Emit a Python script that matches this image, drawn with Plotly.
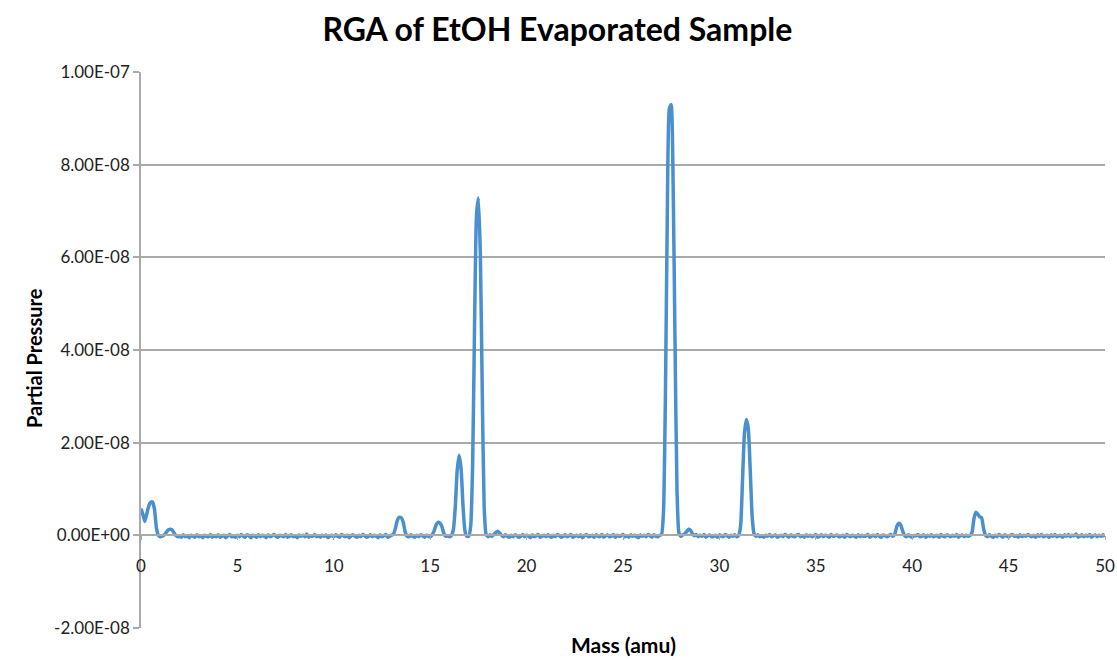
import plotly.graph_objects as go

# Scan parameters (amu)
mass_start = 0.0
mass_step = 0.1

# Partial pressure in units of 1e-9 Torr, one row per amu (x.0 .. x.9), last value at 50.0
pressure_rows = [
    [5.8, 4.5, 3.0, 4.6, 6.3, 7.1, 7.2, 5.6, 1.6, 0.0],        # 0
    [-0.3, -0.2, 0.1, 0.6, 1.1, 1.3, 1.2, 0.6, 0.0, -0.3],     # 1
    [-0.2, -0.4, 0.1, -0.3, -0.1, -0.5, 0.0, -0.2, -0.4, 0.1], # 2
    [-0.3, -0.1, -0.5, 0.0, -0.2, -0.3, 0.2, -0.4, -0.1, -0.3],
    [0.1, -0.4, -0.2, 0.0, -0.5, -0.1, 0.2, -0.3, -0.2, -0.4],
    [0.0, -0.3, 0.2, -0.2, -0.4, 0.1, -0.1, -0.5, 0.0, -0.2],
    [-0.4, 0.1, -0.3, 0.0, -0.2, -0.5, 0.1, -0.3, -0.1, 0.2],
    [-0.2, -0.4, 0.0, -0.1, -0.3, 0.2, -0.4, -0.2, 0.1, -0.3],
    [-0.1, -0.5, 0.1, -0.2, 0.0, -0.3, 0.3, -0.4, -0.1, -0.2],
    [0.2, -0.3, -0.1, -0.4, 0.0, -0.2, 0.1, -0.5, -0.2, 0.0],
    [-0.3, 0.1, -0.2, -0.4, 0.2, -0.1, -0.3, 0.0, -0.5, -0.1], # 10
    [0.1, -0.2, -0.4, 0.0, -0.3, 0.2, -0.1, -0.4, -0.2, 0.1],
    [-0.3, 0.0, -0.2, -0.5, 0.1, -0.3, -0.1, 0.2, -0.4, -0.2],
    [0.0, 0.3, 1.6, 3.3, 3.9, 3.8, 2.8, 0.8, -0.2, -0.3],      # 13
    [0.1, -0.2, -0.4, 0.0, -0.3, 0.1, -0.1, -0.4, 0.0, -0.2],
    [-0.3, 0.1, 0.9, 2.2, 2.8, 2.7, 2.0, 0.5, -0.2, -0.1],     # 15
    [-0.3, 0.0, 1.2, 6.0, 14.0, 17.3, 14.5, 6.5, 1.0, -0.2],   # 16
    [-0.2, 2.0, 15.0, 45.0, 69.0, 72.8, 61.0, 31.0, 6.0, 0.2], # 17
    [-0.3, 0.1, -0.2, 0.2, 0.6, 0.9, 0.5, 0.0, -0.3, 0.1],     # 18
    [-0.2, -0.4, 0.0, -0.3, 0.1, -0.1, -0.4, -0.2, 0.2, -0.3],
    [0.0, -0.2, -0.5, 0.1, -0.3, -0.1, 0.2, -0.4, -0.2, 0.0],  # 20
    [-0.3, 0.1, -0.2, -0.4, 0.0, -0.3, 0.2, -0.1, -0.4, -0.2],
    [0.1, -0.3, -0.1, 0.2, -0.4, -0.2, 0.0, -0.3, 0.1, -0.5],
    [-0.1, 0.2, -0.3, -0.2, 0.0, -0.4, 0.1, -0.2, -0.3, 0.2],
    [-0.4, -0.1, 0.1, -0.3, -0.2, 0.2, -0.4, 0.0, -0.2, -0.1],
    [0.2, -0.3, -0.1, -0.4, 0.1, -0.2, 0.0, -0.3, -0.5, 0.1],
    [-0.2, 0.0, -0.3, 0.2, -0.1, -0.4, 0.1, -0.2, -0.3, 0.0],
    [0.2, 5.0, 30.0, 70.0, 92.0, 93.0, 76.0, 41.0, 10.0, 0.5], # 27
    [-0.2, 0.1, 0.3, 0.8, 1.3, 1.1, 0.4, -0.1, 0.2, -0.3],     # 28
    [0.0, -0.2, 0.2, -0.4, -0.1, 0.1, -0.3, -0.2, 0.0, -0.4],
    [0.1, -0.2, -0.3, 0.2, -0.1, -0.4, 0.0, -0.2, 0.1, -0.3],  # 30
    [0.0, 2.0, 12.0, 22.0, 25.0, 23.0, 14.0, 4.0, 0.3, -0.2],  # 31
    [0.1, -0.3, -0.1, -0.4, 0.0, -0.2, 0.2, -0.3, -0.1, 0.1],
    [-0.4, -0.2, 0.0, -0.3, 0.2, -0.1, -0.4, 0.1, -0.2, -0.3],
    [0.0, 0.2, -0.3, -0.1, -0.4, 0.1, -0.2, 0.0, -0.3, -0.1],
    [0.2, -0.4, -0.2, 0.1, -0.3, 0.0, -0.1, -0.4, 0.2, -0.2],
    [-0.1, 0.1, -0.3, -0.2, 0.0, -0.4, 0.2, -0.1, -0.3, 0.0],
    [-0.2, -0.4, 0.1, -0.3, 0.0, -0.2, -0.1, 0.2, -0.4, -0.1],
    [0.0, -0.3, 0.2, -0.2, -0.4, 0.1, -0.1, -0.3, 0.0, 0.2],
    [-0.2, 0.3, 1.9, 2.6, 2.3, 1.0, 0.0, -0.3, 0.1, -0.2],     # 39
    [-0.4, 0.0, -0.1, 0.2, -0.3, -0.2, 0.1, -0.4, 0.0, -0.2],  # 40
    [0.1, -0.3, -0.1, 0.0, -0.4, 0.2, -0.2, -0.3, 0.1, -0.1],
    [-0.3, 0.0, -0.2, 0.2, -0.4, -0.1, 0.1, -0.3, 0.0, -0.2],
    [0.0, 0.6, 3.5, 5.0, 4.6, 4.0, 3.8, 1.5, 0.0, -0.3],       # 43
    [0.1, -0.2, -0.4, 0.0, -0.3, 0.2, -0.1, -0.4, 0.1, -0.2],
    [-0.3, 0.0, 0.2, -0.2, -0.1, -0.4, 0.1, -0.3, 0.0, -0.2],
    [0.2, -0.1, -0.3, 0.0, -0.4, 0.1, -0.2, 0.2, -0.3, -0.1],
    [0.0, -0.4, 0.1, -0.2, 0.2, -0.3, -0.1, 0.0, -0.4, 0.1],
    [-0.2, 0.2, -0.3, 0.0, -0.1, 0.3, -0.4, -0.2, 0.1, -0.3],
    [0.0, -0.2, 0.2, -0.4, -0.1, 0.1, -0.3, 0.0, -0.2, 0.1],
    [-0.3],                                                     # 50.0
]

x_tick_vals = [0, 5, 10, 15, 20, 25, 30, 35, 40, 45, 50]
y_tick_vals = [-20, 0, 20, 40, 60, 80, 100]
y_tick_text = ["-2.00E-08", "0.00E+00", "2.00E-08", "4.00E-08",
               "6.00E-08", "8.00E-08", "1.00E-07"]

pressure = [v for row in pressure_rows for v in row]

FONT = "Lato, 'Open Sans', sans-serif"
GRAY = "#a9a9a9"

fig = go.Figure()
fig.add_trace(go.Scatter(
    x0=mass_start, dx=mass_step, y=pressure,
    mode="lines",
    line=dict(color="#4a8fd0", width=3.5, shape="spline", smoothing=0.5),
    showlegend=False,
))

x_axis_pos = (0 - (-20)) / (100 - (-20))

L, R, T, B = 141, 12, 72, 32
plot_h = 660 - T - B
plot_w = 1117 - L - R

fig.update_layout(
    width=1117, height=660, autosize=False,
    margin=dict(l=L, r=R, t=T, b=B, autoexpand=False),
    paper_bgcolor="white", plot_bgcolor="white",
    font=dict(family=FONT, color="#222222"),
    title=dict(text="<b>RGA of EtOH Evaporated Sample</b>",
               x=0.499, xref="container", xanchor="center",
               y=0.955, yref="container", yanchor="middle",
               font=dict(size=32, color="#000000", family=FONT)),
    xaxis=dict(range=[0, 50], tickvals=x_tick_vals,
               anchor="free", position=x_axis_pos, automargin=False,
               showline=True, linecolor=GRAY, linewidth=1.5,
               ticks="outside", ticklen=4, tickcolor=GRAY, tickwidth=1,
               ticklabelstandoff=12,
               showgrid=False, zeroline=False,
               tickfont=dict(size=17, family=FONT, color="#222222")),
    yaxis=dict(range=[-20, 100], tickvals=y_tick_vals, ticktext=y_tick_text,
               automargin=False,
               showline=True, linecolor=GRAY, linewidth=1.5,
               ticks="outside", ticklen=6, tickcolor=GRAY, tickwidth=1.5,
               showgrid=True, gridcolor=GRAY, gridwidth=1.5,
               zeroline=False,
               tickfont=dict(size=17, family=FONT, color="#222222")),
    annotations=[
        dict(text="<b>Mass (amu)</b>", x=0.5, xref="paper",
             y=(628 - 644) / plot_h, yref="paper", yanchor="middle",
             showarrow=False,
             font=dict(size=21, family=FONT, color="#000000")),
        dict(text="<b>Partial Pressure</b>", x=(20 - L) / plot_w, xref="paper",
             y=(628 - 358) / plot_h, yref="paper", textangle=-90,
             showarrow=False,
             font=dict(size=20, family=FONT, color="#000000")),
    ],
)

fig.write_html("out.html")
